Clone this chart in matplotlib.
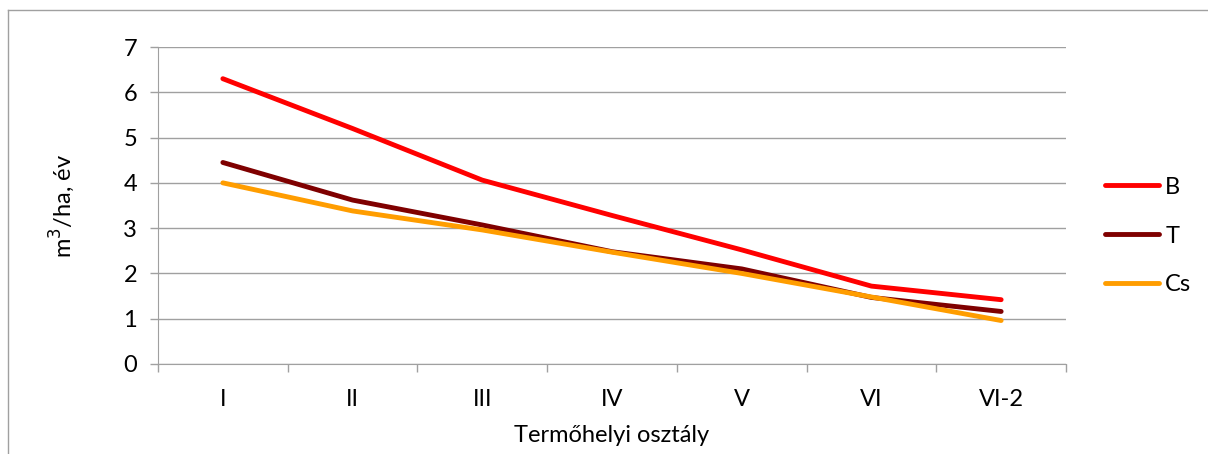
import numpy as np
import matplotlib.pyplot as plt
from matplotlib.lines import Line2D

### data
categories = ['I', 'II', 'III', 'IV', 'V', 'VI', 'VI-2']
b_vals = [6.3, 5.2, 4.06, 3.28, 2.52, 1.72, 1.42]
t_vals = [4.45, 3.62, 3.07, 2.48, 2.10, 1.47, 1.16]
cs_vals = [4.0, 3.38, 2.96, 2.47, 2.0, 1.48, 0.96]

plt.rcParams['font.family'] = ['Lato', 'DejaVu Sans']
fs = 17

W, H = 1208, 454
fig = plt.figure(figsize=(W/100, H/100), dpi=100)
ax = fig.add_axes([158/W, 1 - 364/H, (1066-158)/W, (364-47)/H])

x = np.arange(len(categories))
ax.plot(x, b_vals, color='#FF0000', lw=3.5, solid_capstyle='round', label='B')
ax.plot(x, t_vals, color='#7F0000', lw=3.5, solid_capstyle='round', label='T')
ax.plot(x, cs_vals, color='#FF9D00', lw=3.5, solid_capstyle='round', label='Cs')

ax.set_xlim(-0.5, len(categories) - 0.5)
ax.set_ylim(0, 7)
ax.set_yticks(range(8))
ax.yaxis.grid(True, color='#A0A0A0', lw=1)
ax.set_axisbelow(True)

# category labels in the middle, tick marks on the boundaries
ax.set_xticks(x)
ax.set_xticklabels(categories)
ax.tick_params(axis='x', length=0, pad=18, labelsize=fs)
ax.set_xticks(np.arange(-0.5, len(categories)), minor=True)
ax.tick_params(axis='x', which='minor', length=6, color='#A0A0A0', width=1)
ax.tick_params(axis='y', length=6, color='#A0A0A0', width=1, pad=9, labelsize=fs)

for s in ['top', 'right']:
    ax.spines[s].set_visible(False)
for s in ['left', 'bottom']:
    ax.spines[s].set_color('#A0A0A0')

ax.set_xlabel('Termőhelyi osztály', fontsize=fs, labelpad=11)
ax.set_ylabel('m$^3$/ha, év', fontsize=fs, labelpad=33)

fig.legend(loc='center left', bbox_to_anchor=(1105/W, 1 - 236/H), frameon=False,
           fontsize=fs, handlelength=2.3, handletextpad=0.25, labelspacing=1.18,
           borderpad=0, borderaxespad=0)

# chart frame (left and top edges only are inside the image)
fig.add_artist(Line2D([8/W, 8/W], [0, 1 - 10/H], transform=fig.transFigure, color='#A0A0A0', lw=1))
fig.add_artist(Line2D([8/W, 1], [1 - 10/H, 1 - 10/H], transform=fig.transFigure, color='#A0A0A0', lw=1))

fig.savefig('out.png', dpi=100)
